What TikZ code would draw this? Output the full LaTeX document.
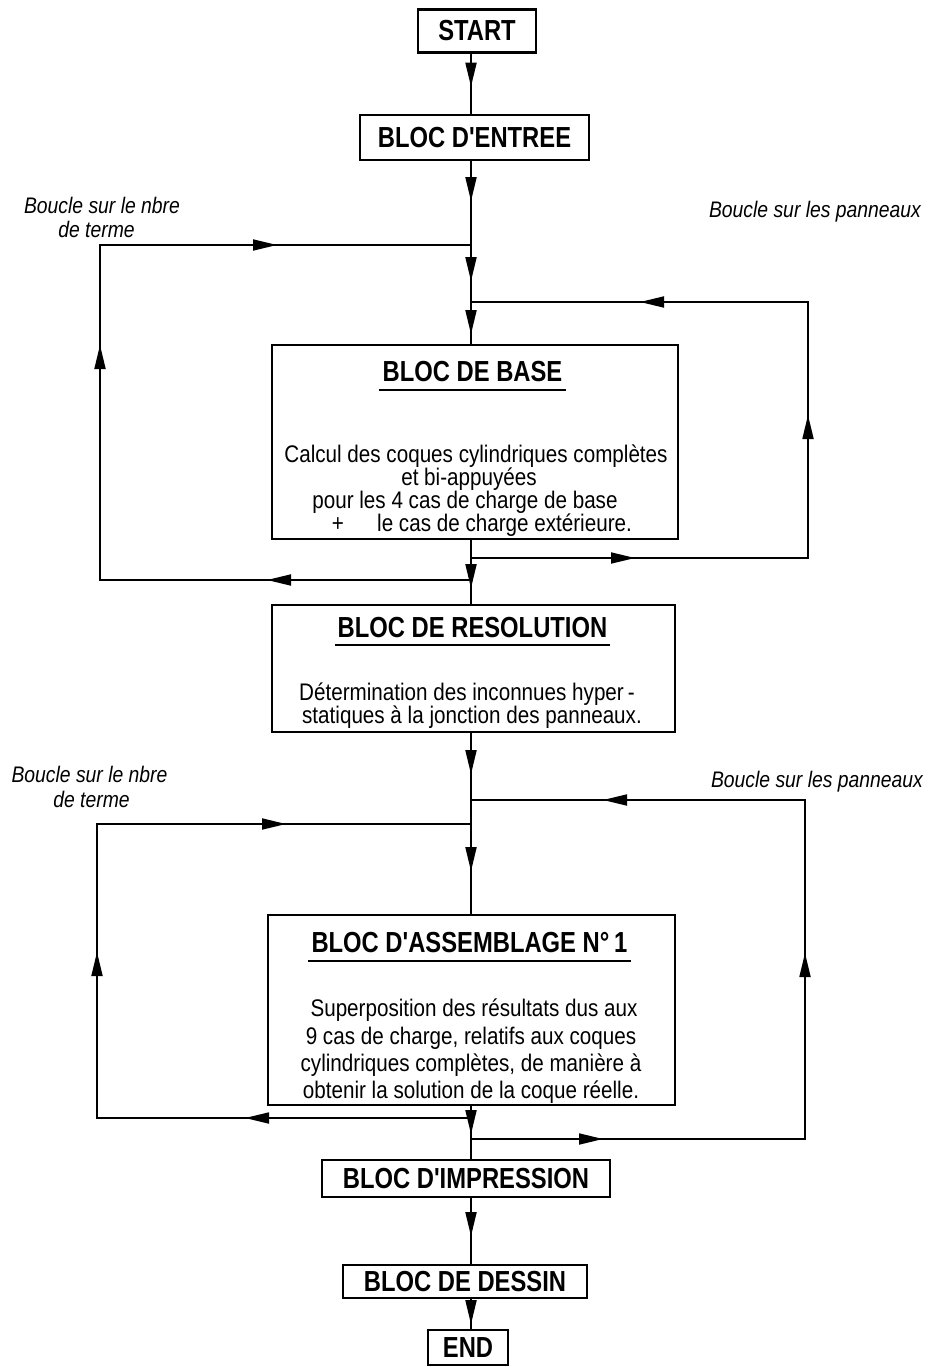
\documentclass[tikz,border=0pt]{standalone}
\usepackage{fontspec}
\setmainfont{Liberation Sans}[FakeStretch=0.86]
\newfontfamily\ttlfont{Liberation Sans}[FakeStretch=0.82]
\usetikzlibrary{arrows.meta,decorations.markings}
\tikzset{
  >={Triangle[length=24pt,width=11pt]},
  conn/.style={line width=1.8pt},
  box/.style={draw, line width=2.3pt, inner sep=0pt, fill=white},
  ttl/.style={font=\fontsize{29}{34}\ttlfont\bfseries},
  body/.style={font=\fontsize{24}{28}\selectfont, inner sep=0pt, anchor=base},
  lbl/.style={font=\fontsize{22.5}{26}\selectfont\itshape, inner sep=0pt, anchor=base},
  arrowsat/.style={postaction={decorate, decoration={markings, #1}}},
}
\begin{document}
\begin{tikzpicture}[x=1pt,y=-1pt]
\fill[white] (0,0) rectangle (928,1367);
\useasboundingbox (0,0) rectangle (928,1367);

% junctions on the main line
\coordinate (jL1) at (471,245);
\coordinate (jR1) at (471,302);
\coordinate (jR1b) at (471,558);
\coordinate (jL1b) at (471,580);
\coordinate (jR2) at (471,800);
\coordinate (jL2) at (471,824);
\coordinate (jL2b) at (471,1118);
\coordinate (jR2b) at (471,1139);
% loop corners
\coordinate (cL1a) at (100,580);
\coordinate (cL1b) at (100,245);
\coordinate (cR1a) at (808,558);
\coordinate (cR1b) at (808,302);
\coordinate (cR2a) at (805,1139);
\coordinate (cR2b) at (805,800);
\coordinate (cL2a) at (97,1118);
\coordinate (cL2b) at (97,824);

% boxes
\node[box, ttl, minimum width=118pt, minimum height=43pt] (start) at (477,31) {START};
\node[box, ttl, minimum width=229pt, minimum height=45pt] (entree) at (474.5,137.5) {BLOC D'ENTREE};
\node[box, minimum width=406pt, minimum height=194pt] (base) at (475,442) {};
\node[box, minimum width=403pt, minimum height=127pt] (resol) at (473.5,668.5) {};
\node[box, minimum width=407pt, minimum height=190pt] (assem) at (471.5,1010) {};
\node[box, ttl, minimum width=288pt, minimum height=37pt] (impr) at (466,1178.5) {BLOC D'IMPRESSION};
\node[box, ttl, minimum width=244pt, minimum height=33pt] (dessin) at (465,1281.5) {BLOC DE DESSIN};
\node[box, ttl, minimum width=80pt, minimum height=35pt] (end) at (468,1347.5) {END};

% contents of BLOC DE BASE
\node[ttl, anchor=base, inner sep=0pt] (baseT) at (472.5,381) {BLOC DE BASE};
\draw[line width=2pt] ([xshift=-3pt,yshift=-9pt]baseT.base west) -- ([xshift=3pt,yshift=-9pt]baseT.base east);
\node[body] (b1) at (476,462) {Calcul des coques cylindriques complètes};
\node[body] (b2) at (469,485) {et bi-appuyées};
\node[body] (b3) at (465,508) {pour les 4 cas de charge de base};
\node[body] (b4p) at (338,531) {+};
\node[body, anchor=base west] (b4) at (377,531) {le cas de charge extérieure.};

% contents of BLOC DE RESOLUTION
\node[ttl, anchor=base, inner sep=0pt] (resT) at (472.5,637) {BLOC DE RESOLUTION};
\draw[line width=2pt] ([xshift=-3pt,yshift=-8pt]resT.base west) -- ([xshift=3pt,yshift=-8pt]resT.base east);
\node[body] (r1) at (467,700) {Détermination des inconnues hyper\,-};
\node[body] (r2) at (472,723) {statiques à la jonction des panneaux.};

% contents of BLOC D'ASSEMBLAGE
\node[ttl, anchor=base, inner sep=0pt] (asT) at (469.5,952) {BLOC D'ASSEMBLAGE N°\,1};
\draw[line width=2pt] ([xshift=-3pt,yshift=-9pt]asT.base west) -- ([xshift=3pt,yshift=-9pt]asT.base east);
\node[body] (a1) at (474,1016) {Superposition des résultats dus aux};
\node[body] (a2) at (471,1044) {9 cas de charge, relatifs aux coques};
\node[body] (a3) at (471,1071) {cylindriques complètes, de manière à};
\node[body] (a4) at (471,1098) {obtenir la solution de la coque réelle.};

% loop labels
\node[lbl] (lL1a) at (102,213) {Boucle sur le nbre};
\node[lbl] (lL1b) at (96.5,237) {de terme};
\node[lbl] (lR1) at (815,218) {Boucle sur les panneaux};
\node[lbl] (lL2a) at (89.5,782) {Boucle sur le nbre};
\node[lbl] (lL2b) at (91.5,807) {de terme};
\node[lbl] (lR2) at (817,787) {Boucle sur les panneaux};

% main line
\draw[conn, arrowsat={mark=at position 33pt with {\arrow{>}}}] (start.south -| jL1) -- (entree.north -| jL1);
\draw[conn, arrowsat={mark=at position 40pt with {\arrow{>}}, mark=at position 120pt with {\arrow{>}}, mark=at position 173pt with {\arrow{>}}}] (entree.south -| jL1) -- (jL1) -- (jR1) -- (base.north -| jL1);
\draw[conn, arrowsat={mark=at position 48pt with {\arrow{>}}}] (base.south -| jL1) -- (jR1b) -- (jL1b) -- (resol.north -| jL1);
\draw[conn, arrowsat={mark=at position 41pt with {\arrow{>}}, mark=at position 138pt with {\arrow{>}}}] (resol.south -| jL1) -- (jR2) -- (jL2) -- (assem.north -| jL1);
\draw[conn, arrowsat={mark=at position 28pt with {\arrow{>}}}] (assem.south -| jL1) -- (jL2b) -- (jR2b) -- (impr.north -| jL1);
\draw[conn, arrowsat={mark=at position 38pt with {\arrow{>}}}] (impr.south -| jL1) -- (dessin.north -| jL1);
\draw[conn, arrowsat={mark=at position 25pt with {\arrow{>}}}] (dessin.south -| jL1) -- (end.north -| jL1);

% loops
\draw[conn, arrowsat={mark=at position 204pt with {\arrow{>}}, mark=at position 606pt with {\arrow{>}}, mark=at position 883pt with {\arrow{>}}}] (jL1b) -- (cL1a) -- (cL1b) -- (jL1);
\draw[conn, arrowsat={mark=at position 164pt with {\arrow{>}}, mark=at position 480pt with {\arrow{>}}, mark=at position 761pt with {\arrow{>}}}] (jR1b) -- (cR1a) -- (cR1b) -- (jR1);
\draw[conn, arrowsat={mark=at position 132pt with {\arrow{>}}, mark=at position 520pt with {\arrow{>}}, mark=at position 875pt with {\arrow{>}}}] (jR2b) -- (cR2a) -- (cR2b) -- (jR2);
\draw[conn, arrowsat={mark=at position 226pt with {\arrow{>}}, mark=at position 540pt with {\arrow{>}}, mark=at position 857pt with {\arrow{>}}}] (jL2b) -- (cL2a) -- (cL2b) -- (jL2);
\end{tikzpicture}
\end{document}
